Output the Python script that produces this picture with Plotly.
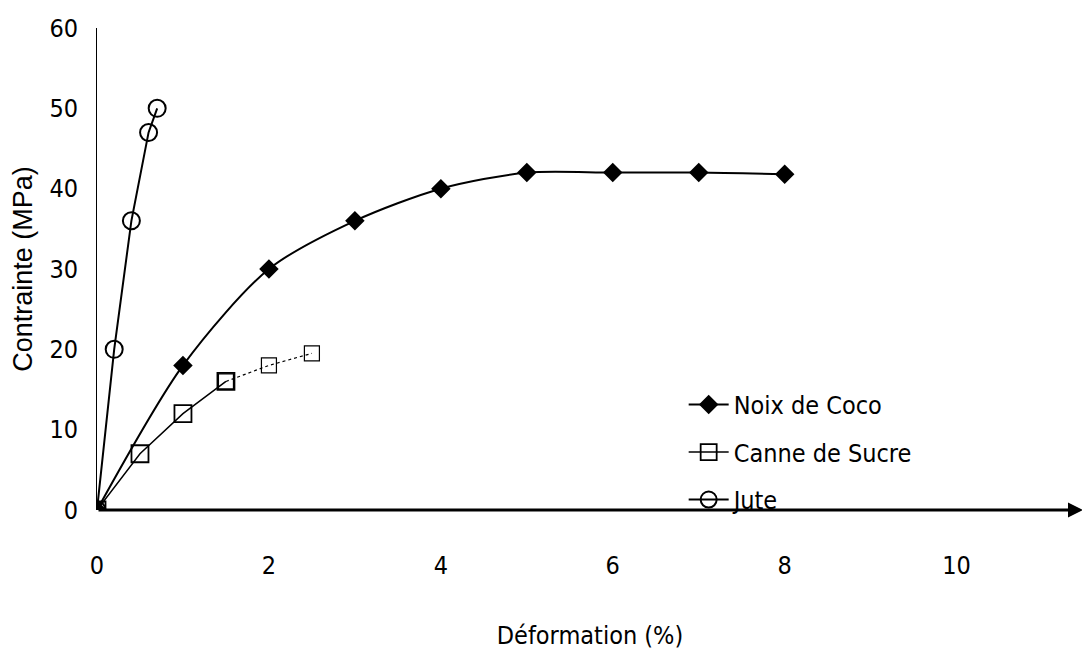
import plotly.graph_objects as go

# Data
coco_x = [0, 1, 2, 3, 4, 5, 6, 7, 8]
coco_y = [0, 18, 30, 36, 40, 42, 42, 42, 41.8]

canne_x = [0, 0.5, 1, 1.5, 2, 2.5]
canne_y = [0, 7, 12, 16, 18, 19.5]

jute_x = [0, 0.2, 0.4, 0.6, 0.7]
jute_y = [0, 20, 36, 47, 50]

x_ticks = [0, 2, 4, 6, 8, 10]
y_ticks = [0, 10, 20, 30, 40, 50, 60]

narrow = "DejaVu Sans Condensed, Liberation Sans Narrow, Arial Narrow, sans-serif"

fig = go.Figure()

fig.add_trace(go.Scatter(
    x=coco_x, y=coco_y, name="Noix de Coco", mode="lines+markers",
    line=dict(color="black", width=2, shape="spline", smoothing=0.8),
    marker=dict(symbol="diamond", size=15, color="black"),
    legendgroup="a",
))
fig.add_trace(go.Scatter(
    x=canne_x[:4], y=canne_y[:4], name="Canne de Sucre", mode="lines+markers",
    line=dict(color="black", width=1.5),
    marker=dict(symbol="square-open", size=17, color="black", line=dict(width=1.8)),
    legendgroup="b",
))
fig.add_trace(go.Scatter(
    x=canne_x[3:], y=canne_y[3:], mode="lines+markers", showlegend=False,
    line=dict(color="black", width=1.2, dash="dot"),
    marker=dict(symbol="square-open", size=15, color="black", line=dict(width=1.2)),
    legendgroup="b",
))
fig.add_trace(go.Scatter(
    x=jute_x, y=jute_y, name="Jute", mode="lines+markers",
    line=dict(color="black", width=2),
    marker=dict(symbol="circle-open", size=17, color="black", line=dict(width=2)),
    legendgroup="c",
))

# x-axis arrow
fig.add_annotation(
    x=11.47, y=0, ax=0, ay=0, xref="x", yref="y", axref="x", ayref="y",
    showarrow=True, arrowhead=2, arrowsize=1, arrowwidth=3, arrowcolor="black", text="",
)

fig.update_layout(
    width=1082, height=659,
    margin=dict(l=89, r=7, t=20, b=157, autoexpand=False),
    paper_bgcolor="white", plot_bgcolor="white",
    showlegend=True,
    legend=dict(
        x=0.595, y=0.266, xanchor="left", yanchor="top",
        font=dict(family=narrow, size=25, color="black"),
        bgcolor="rgba(0,0,0,0)", tracegroupgap=12, itemwidth=40,
    ),
    xaxis=dict(
        range=[0, 11.47], tickvals=x_ticks, ticktext=[str(v) for v in x_ticks],
        showgrid=False, zeroline=False, showline=False, automargin=False,
        ticks="outside", ticklen=0, ticklabelstandoff=33,
        tickfont=dict(family=narrow, size=25, color="black"),
        title=dict(text="Déformation (%)", font=dict(family=narrow, size=25, color="black"), standoff=47),
    ),
    yaxis=dict(
        range=[0, 60], tickvals=y_ticks, ticktext=[str(v) for v in y_ticks],
        showgrid=False, zeroline=False, showline=True, linecolor="black", linewidth=1,
        automargin=False,
        ticks="outside", ticklen=0, ticklabelstandoff=13,
        tickfont=dict(family=narrow, size=25, color="black"),
        title=dict(text="Contrainte (MPa)", font=dict(family="Liberation Sans, Arial, sans-serif", size=27, color="black"), standoff=8),
    ),
)

fig.write_html("out.html")
